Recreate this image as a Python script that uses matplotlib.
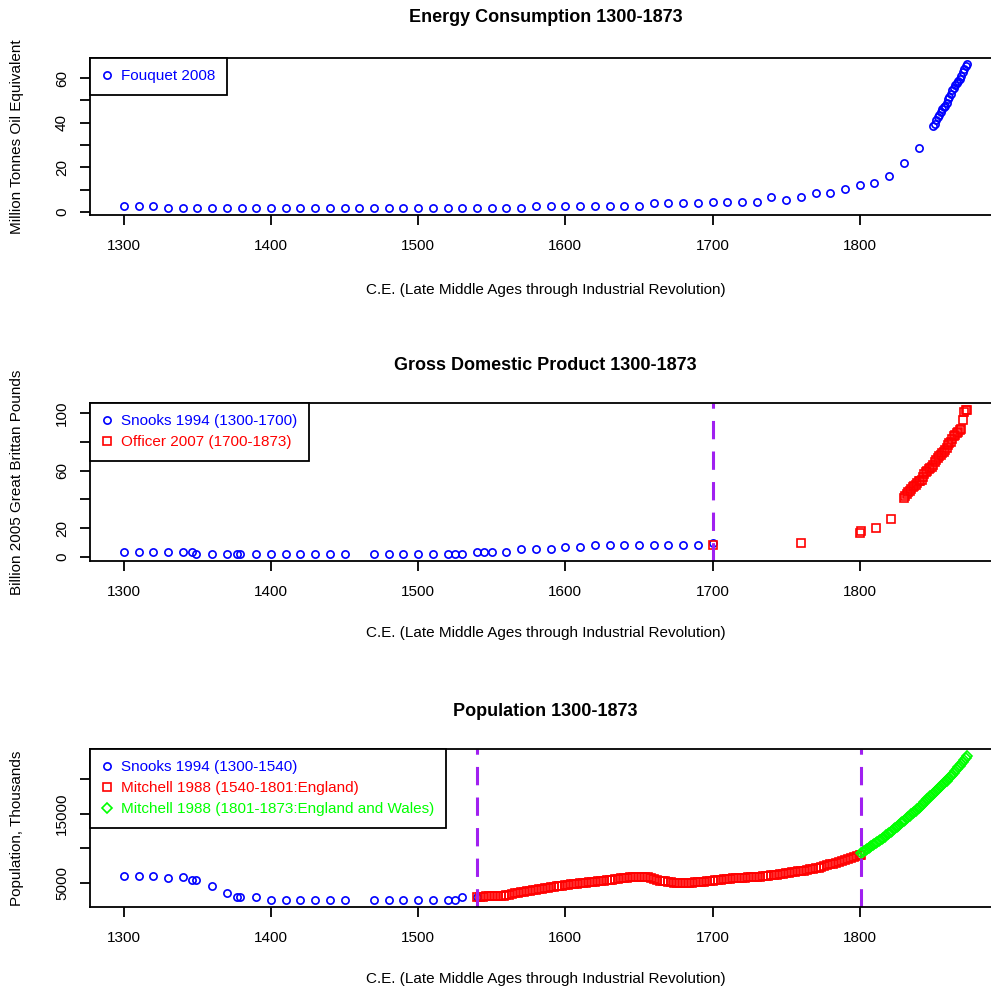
import numpy as np
import matplotlib
matplotlib.use("Agg")
import matplotlib.pyplot as plt

plt.rcParams['font.family'] = ['Liberation Sans', 'DejaVu Sans']

# ---- energy (Fouquet 2008), million tonnes oil equivalent
energy_years_dec = np.arange(1300, 1841, 10)
energy_dec = [2.8, 2.8, 2.8] + [1.6] * 25 + [2.8] * 8 + [3.8] * 4 + [4.6] * 3 + \
    [4.3, 6.8, 5.3, 6.5, 8.3, 8.3, 10.2, 12.0, 13.0, 16.2, 21.7, 28.8]
energy_years_ann = np.arange(1850, 1874)
energy_ann = [38.5, 39.5, 41, 42.5, 43.5, 45, 46, 47, 47.5, 49, 50.5, 51.5,
              53, 54.5, 55.5, 57, 58, 58.5, 59.5, 61, 62.5, 64, 65.5, 66.5]

# ---- GDP, billion 2005 GBP
gdp_snooks_years = [1300, 1310, 1320, 1330, 1340, 1346, 1349, 1360, 1370, 1377, 1379, 1390,
                    1400, 1410, 1420, 1430, 1440, 1450, 1470, 1480, 1490, 1500, 1510, 1520,
                    1525, 1530, 1540, 1545, 1550, 1560, 1570, 1580, 1590, 1600, 1610, 1620,
                    1630, 1640, 1650, 1660, 1670, 1680, 1690, 1700]
gdp_snooks = [3.5] * 6 + [2.1] * 20 + [3.7] * 4 + [5.3] * 3 + [6.7] * 2 + [8.3] * 8 + [9.5]
gdp_officer_years = [1700, 1760, 1800, 1801, 1811, 1821] + list(range(1830, 1874))
gdp_officer = [8.3, 9.9, 17.0, 18.3, 20.4, 26.4,
               41, 42.5, 44, 45, 45.5, 47, 48.5, 49, 50, 51.5,
               52.5, 52.5, 53.5, 55.5, 57.5, 59, 60, 61, 62, 62.5,
               64, 66, 67.5, 69, 70, 71, 72.5, 73, 74, 76,
               78, 79, 80, 82, 84, 85, 86, 87, 88, 89,
               95, 101, 102, 102]

# ---- population, thousands
pop_snooks_years = [1300, 1310, 1320, 1330, 1340, 1346, 1349, 1360, 1370, 1377, 1379, 1390,
                    1400, 1410, 1420, 1430, 1440, 1450, 1470, 1480, 1490, 1500, 1510, 1520,
                    1525, 1530, 1540]
pop_snooks = [6000, 6000, 6000, 5720, 5820, 5430, 5430, 4570, 3600, 2940, 2940, 2940,
              2550, 2550, 2550, 2550, 2550, 2550, 2550, 2550, 2550, 2550, 2550, 2550,
              2600, 3030, 3030]
pop_eng_years = list(range(1540, 1801, 2)) + [1801]
pop_eng = [2950, 2990, 3020, 3060, 3080, 3100, 3110, 3120, 3130, 3140,
           3250, 3340, 3430, 3510, 3580, 3660, 3730, 3800, 3870, 3940,
           4000, 4070, 4140, 4210, 4290, 4360, 4430, 4500, 4570, 4640,
           4715, 4760, 4810, 4850, 4900, 4950, 4990, 5040, 5090, 5140,
           5190, 5240, 5290, 5330, 5380, 5430, 5490, 5540, 5600, 5650,
           5710, 5760, 5815, 5840, 5860, 5890, 5900, 5880, 5800, 5680,
           5540, 5430, 5360, 5290, 5230, 5170, 5110, 5060, 5020, 4990,
           4960, 4980, 5010, 5040, 5080, 5120, 5170, 5210, 5260, 5310,
           5360, 5400, 5450, 5500, 5560, 5610, 5640, 5670, 5700, 5730,
           5760, 5790, 5810, 5840, 5870, 5900, 5930, 5960, 6000, 6050,
           6100, 6160, 6220, 6270, 6330, 6390, 6450, 6520, 6590, 6660,
           6720, 6800, 6880, 6960, 7050, 7150, 7220, 7330, 7440, 7560,
           7680, 7790, 7900, 8030, 8170, 8320, 8460, 8600, 8720, 8860,
           9000, 9050]
pop_ew_years = list(range(1801, 1874))
pop_ew = [9300, 9440, 9590, 9730, 9880, 10030, 10170, 10320, 10470, 10620,
          10760, 10910, 11060, 11200, 11350, 11500, 11670, 11850, 12020, 12190,
          12360, 12540, 12710, 12880, 13050, 13230, 13400, 13590, 13770, 13960,
          14140, 14330, 14510, 14700, 14880, 15070, 15260, 15440, 15630, 15810,
          16000, 16210, 16420, 16630, 16840, 17050, 17250, 17460, 17670, 17880,
          18090, 18300, 18510, 18720, 18930, 19140, 19350, 19550, 19760, 19970,
          20180, 20390, 20600, 20860, 21120, 21390, 21650, 21920, 22180, 22450,
          22720, 23000, 23300]

BLUE, RED, GREEN, PURPLE = '#0000FF', '#FF0000', '#00FF00', '#A020F0'
xlab = 'C.E. (Late Middle Ages through Industrial Revolution)'

fig = plt.figure(figsize=(9.91, 9.91), dpi=100)
H = 991.0


def make_ax(top, bottom):
    ax = fig.add_axes([90 / H, 1 - bottom / H, (1001 - 90) / H, (bottom - top) / H])
    ax.set_xlim(1277, 1896)
    ax.set_xticks([1300, 1400, 1500, 1600, 1700, 1800])
    for s in ax.spines.values():
        s.set_linewidth(1.3)
    ax.tick_params(length=7.2, width=1.3, labelsize=11)
    ax.tick_params(axis='x', pad=10)
    ax.tick_params(axis='y', pad=8, labelrotation=90)
    return ax


def legend(ax):
    leg = ax.legend(loc='upper left', borderaxespad=0, fancybox=False, framealpha=1,
                    edgecolor='black', fontsize=11, handlelength=0.7, handletextpad=0.6,
                    borderpad=0.75, labelspacing=0.45, numpoints=1)
    leg.get_frame().set_linewidth(1.3)
    for t, h in zip(leg.get_texts(), leg.legend_handles):
        t.set_color(h.get_markeredgecolor())
    return leg


mk = dict(linestyle='none', markerfacecolor='none', markeredgewidth=1.2)

# top panel
ax1 = make_ax(58, 215)
ax1.plot(list(energy_years_dec) + list(energy_years_ann), energy_dec + energy_ann,
         marker='o', ms=5.2, color=BLUE, label='Fouquet 2008', **mk)
ax1.set_ylim(-1.4, 69)
ax1.set_yticks(np.arange(0, 61, 10))
ax1.set_yticklabels(['0', '', '20', '', '40', '', '60'], va='center')
legend(ax1)

# middle panel
ax2 = make_ax(403, 561)
ax2.plot(gdp_snooks_years, gdp_snooks, marker='o', ms=5.2, color=BLUE,
         label='Snooks 1994 (1300-1700)', **mk)
ax2.plot(gdp_officer_years, gdp_officer, marker='s', ms=5.8, color=RED,
         label='Officer 2007 (1700-1873)', **mk)
ax2.axvline(1700, color=PURPLE, lw=2.2, linestyle=(0, (6, 4)))
ax2.set_ylim(-2.8, 107)
ax2.set_yticks(np.arange(0, 101, 20))
ax2.set_yticklabels(['0', '20', '', '60', '', '100'], va='center')
legend(ax2)

# bottom panel
ax3 = make_ax(749, 907)
ax3.plot(pop_snooks_years, pop_snooks, marker='o', ms=5.2, color=BLUE,
         label='Snooks 1994 (1300-1540)', **mk)
ax3.plot(pop_eng_years, pop_eng, marker='s', ms=5.8, color=RED,
         label='Mitchell 1988 (1540-1801:England)', **mk)
ax3.plot(pop_ew_years, pop_ew, marker='D', ms=5.5, color=GREEN,
         label='Mitchell 1988 (1801-1873:England and Wales)', **mk)
ax3.axvline(1540, color=PURPLE, lw=2.2, linestyle=(0, (6, 4)))
ax3.axvline(1801, color=PURPLE, lw=2.2, linestyle=(0, (6, 4)))
ax3.set_ylim(1544, 24300)
ax3.set_yticks([5000, 10000, 15000, 20000])
ax3.set_yticklabels(['5000', '', '15000', ''], va='center')
legend(ax3)

# titles and axis labels
cx = (90 + 1001) / 2 / H
for title, ty in [('Energy Consumption 1300-1873', 18),
                  ('Gross Domestic Product 1300-1873', 365),
                  ('Population 1300-1873', 711)]:
    fig.text(cx, 1 - ty / H, title, ha='center', va='center', fontsize=13, fontweight='bold')
for ly in [290, 633, 979]:
    fig.text(cx, 1 - ly / H, xlab, ha='center', va='center', fontsize=11)
for lab, (t, b) in [('Million Tonnes Oil Equivalent', (58, 215)),
                    ('Billion 2005 Great Brittan Pounds', (403, 561)),
                    ('Population, Thousands', (749, 907))]:
    fig.text(17 / H, 1 - (t + b) / 2 / H, lab, rotation=90, ha='center', va='center',
             fontsize=11)

fig.savefig('out.png', dpi=100)
